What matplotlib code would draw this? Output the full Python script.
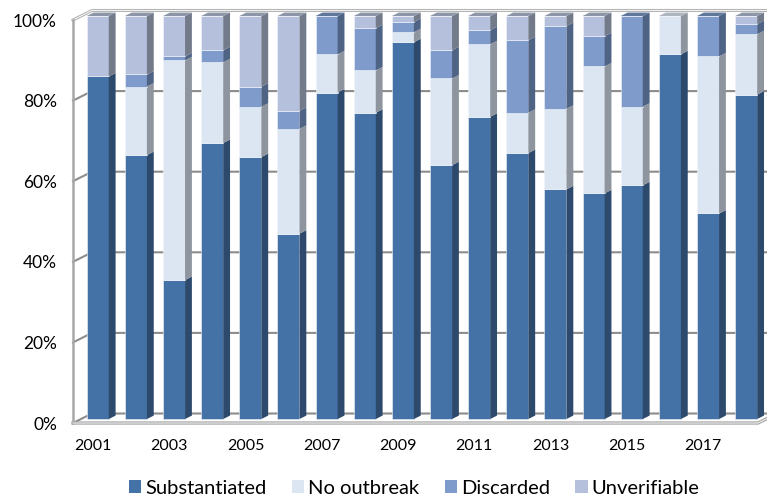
import matplotlib
matplotlib.use("Agg")
from matplotlib import pyplot as plt
from matplotlib.patches import Polygon, Patch

years = list(range(2001, 2019))
substantiated = [85, 65.5, 34.5, 68.5, 65, 46, 81, 76, 93.5, 63, 75, 66, 57, 56, 58, 90.5, 51, 80.5]
no_outbreak = [0, 17, 54.5, 20, 12.5, 26, 9.5, 10.5, 2.5, 21.5, 18, 10, 20, 31.5, 19.5, 9.5, 39, 15]
discarded = [0, 3, 1, 3, 5, 4.5, 9.5, 10.5, 2.5, 7, 3.5, 18, 20.5, 7.5, 22.5, 0, 10, 2.5]
unverifiable = [15, 14.5, 10, 8.5, 17.5, 23.5, 0, 3, 1.5, 8.5, 3.5, 6, 2.5, 5, 0, 0, 0, 2]

series = ["Substantiated", "No outbreak", "Discarded", "Unverifiable"]
values = [substantiated, no_outbreak, discarded, unverifiable]
front_c = ["#4472A7", "#DCE6F2", "#7E9BCB", "#B4C0DC"]
side_c = ["#2D4A6D", "#8E959E", "#4F6385", "#737B8B"]
top_c = ["#3C5E8A", "#AEB5BE", "#60779C", "#8D96A8"]

yticks = [0, 20, 40, 60, 80, 100]

# depth projection (data units per full depth)
DX, DY = 0.498, 2.36
Z0, Z1 = 0.42, 0.78
W = 0.577
XL, XR = -0.44, 17.52


def proj(x, y, z):
    return x + z * DX, y + z * DY


fig = plt.figure(figsize=(7.67, 5.0), dpi=100)
ax = fig.add_axes([0, 0, 1, 1])
ax.set_xlim(-2.354, 17.755)
ax.set_ylim(-19.1, 104.96)
ax.axis("off")

grid = "#8C8C8C"
# walls and gridlines
for v in yticks:
    a = proj(XL, v, 0)
    b = proj(XL, v, 1)
    c = proj(XR + 1, v, 1)
    if v == 100:
        ax.plot([a[0], b[0], c[0]], [a[1], b[1], c[1]], color="#B5B5B5", lw=2.2, zorder=1)
        ax.plot([a[0], b[0], c[0]], [a[1], b[1], c[1]], color="white", lw=0.6, zorder=1)
    else:
        ax.plot([a[0], b[0], c[0]], [a[1], b[1], c[1]], color=grid, lw=1.5, zorder=1)
# left wall front edge
p0, p1 = proj(XL, 0, 0), proj(XL, 100, 0)
ax.plot([p0[0], p1[0]], [p0[1], p1[1]], color="#A8A8A8", lw=1.8, zorder=1)
# floor front edge and right edge
f0, f1, f2 = proj(XL, 0, 0), proj(XR, 0, 0), proj(XR, 0, 1)
ax.plot([f0[0], f1[0], f2[0]], [f0[1], f1[1], f2[1]], color="#A8A8A8", lw=2.4, zorder=1)
ax.plot([f0[0], f1[0], f2[0]], [f0[1], f1[1], f2[1]], color="white", lw=0.6, zorder=1)

# bars
for i in range(len(years)):
    bottom = 0
    for k in range(len(series)):
        h = values[k][i]
        if h <= 0:
            continue
        top = bottom + h
        fx, fy = proj(i, bottom, Z0)
        ax.bar(fx, h, width=W, bottom=fy, color=front_c[k], edgecolor="#F2F5FA",
               linewidth=0.4, zorder=3)
        xr = i + W / 2
        side = [proj(xr, bottom, Z0), proj(xr, bottom, Z1), proj(xr, top, Z1), proj(xr, top, Z0)]
        ax.add_patch(Polygon(side, closed=True, facecolor=side_c[k], edgecolor="none", zorder=3))
        if top >= 99.9:
            xl = i - W / 2
            lid = [proj(xl, top, Z0), proj(xr, top, Z0), proj(xr, top, Z1), proj(xl, top, Z1)]
            ax.add_patch(Polygon(lid, closed=True, facecolor=top_c[k], edgecolor="none", zorder=3))
        bottom = top

font = "Lato"
# y tick labels
for v in yticks:
    x, y = proj(XL, v, 0)
    ax.text(x - 0.42, y - 0.4, f"{v}%", ha="right", va="center", fontsize=12.5,
            family=font, color="black")
# x tick labels (every other year)
for i, yr in enumerate(years):
    if i % 2 == 0:
        ax.text(i + 0.08, -5.6, str(yr), ha="center", va="center", fontsize=11.5,
                family=font, color="black")

handles = [Patch(facecolor=front_c[k], edgecolor="none") for k in range(len(series))]
fig.legend(handles, series, loc="lower center", ncol=4, frameon=False,
           bbox_to_anchor=(0.54, -0.03), handlelength=0.62, handleheight=0.62,
           handletextpad=0.2, columnspacing=1.25, prop={"family": font, "size": 14.5})

fig.savefig("out.png", dpi=100)
